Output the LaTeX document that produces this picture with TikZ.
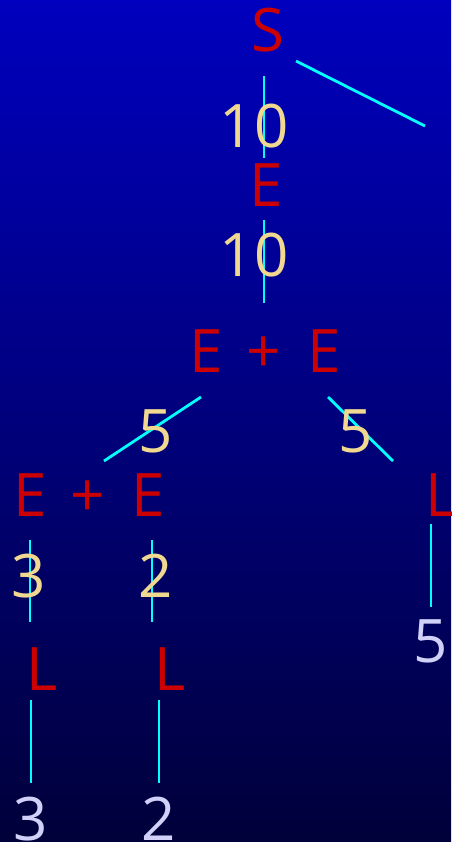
\documentclass[tikz,border=0pt]{standalone}
\usepackage{fontspec}
\setmainfont{Open Sans}
\definecolor{bgtop}{HTML}{0000BE}
\definecolor{bgbot}{HTML}{00003A}
\definecolor{nt}{HTML}{CC0000}
\definecolor{val}{HTML}{F0D890}
\definecolor{leaf}{HTML}{D0D0F8}
\definecolor{edge}{HTML}{00FFFF}
\tikzset{
  sym/.style={anchor=base, inner sep=0pt, text=nt, font=\fontsize{60}{60}\selectfont},
  valtxt/.style={anchor=base, inner sep=0pt, text=val, font=\fontsize{60}{60}\selectfont},
  leaftxt/.style={anchor=base, inner sep=0pt, text=leaf, font=\fontsize{60}{60}\selectfont},
  edgeline/.style={draw=edge, line width=2.8pt}
}
\begin{document}
\begin{tikzpicture}[x=1pt,y=-1pt]
\shade[top color=bgtop, bottom color=bgbot] (0,0) rectangle (451,842);
\useasboundingbox (0,0) rectangle (451,842);
% lines
\coordinate (a1) at (264,76);  \coordinate (a2) at (264,158);
\coordinate (b1) at (296,61);  \coordinate (b2) at (425,126);
\coordinate (c1) at (264,220); \coordinate (c2) at (264,303);
\coordinate (d1) at (201,397); \coordinate (d2) at (104,461);
\coordinate (e1) at (328,397); \coordinate (e2) at (393,461);
\coordinate (f1) at (30,540);  \coordinate (f2) at (30,622);
\coordinate (g1) at (152,540); \coordinate (g2) at (152,622);
\coordinate (h1) at (431,524); \coordinate (h2) at (431,607);
\coordinate (i1) at (31,700);  \coordinate (i2) at (31,783);
\coordinate (j1) at (159,700); \coordinate (j2) at (159,783);
\foreach \p in {a,b,c,d,e,f,g,h,i,j} \draw[edgeline] (\p1) -- (\p2);
% symbols
\node[sym] (S) at (268,52) {S};
\node[valtxt] (v1) at (254,148) {10};
\node[sym] (E0) at (266,207) {E};
\node[valtxt] (v2) at (254,276) {10};
\node[sym] (E1) at (206,372) {E};
\node[sym] (P1) at (264,372) {+};
\node[sym] (E2) at (324,372) {E};
\node[valtxt] (v3) at (156,452) {5};
\node[valtxt] (v4) at (356,452) {5};
\node[sym] (E3) at (30,516) {E};
\node[sym] (P2) at (88,516) {+};
\node[sym] (E4) at (148,516) {E};
\node[sym] (L0) at (441,516) {L};
\node[valtxt] (v5) at (29,597) {3};
\node[valtxt] (v6) at (156,597) {2};
\node[leaftxt] (n5) at (431,662) {5};
\node[sym] (L1) at (42,690) {L};
\node[sym] (L2) at (170,690) {L};
\node[leaftxt] (n3) at (31,840) {3};
\node[leaftxt] (n2) at (159,840) {2};
\end{tikzpicture}
\end{document}
